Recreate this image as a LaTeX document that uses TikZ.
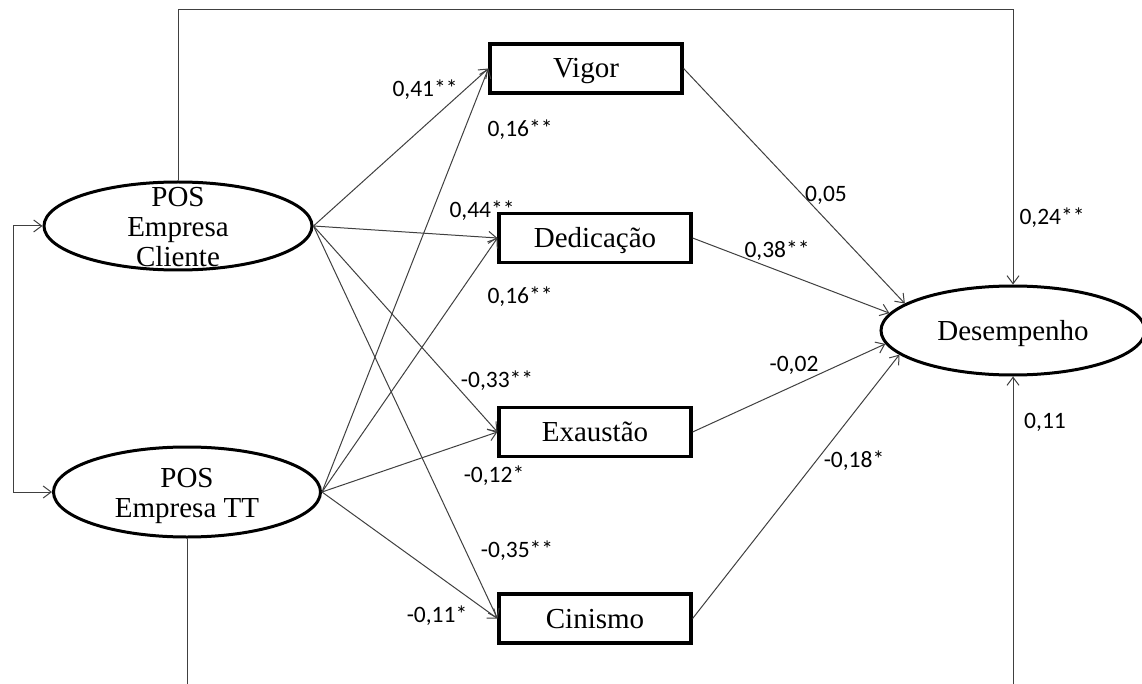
\documentclass[tikz,border=0pt]{standalone}
\usepackage{fontspec}
\setmainfont{Liberation Serif}
\newfontfamily\lblfont{Carlito}
\usetikzlibrary{shapes.geometric,arrows.meta}
\begin{document}
\begin{tikzpicture}[x=1pt,y=-1pt,
  conn/.style={draw=black!75, line width=1pt},
  tip/.tip={Straight Barb[length=8pt,width=12pt]},
  arr/.style={conn, -tip},
  latent/.style={ellipse, draw, line width=3pt, inner sep=0pt},
  bigfont/.style={font=\fontsize{29}{30}\selectfont},
  obsbox/.style={rectangle, draw, line width=3.2pt, minimum width=192pt, minimum height=49pt, inner sep=0pt, bigfont, text height=19pt, text depth=0pt},
  coef/.style={font=\lblfont\fontsize{23.5}{25}\selectfont, inner sep=0pt, text height=15pt, text depth=0pt},
  lattext/.style={bigfont, align=center, inner sep=0pt, anchor=north}
]
\useasboundingbox (0,0) rectangle (1142,684);
\fill[white] (0,0) rectangle (1142,684);

% latent variables
\node[latent, minimum width=268pt, minimum height=88pt] (cli) at (178,226) {};
\node[lattext] (clit) at (178,187) {POS\\Empresa\\Cliente};
\node[latent, minimum width=267pt, minimum height=90pt] (tt) at (187,492) {};
\node[lattext] (ttt) at (187,468) {POS\\Empresa TT};
\node[latent, minimum width=264pt, minimum height=89pt, bigfont, text height=19pt, text depth=0pt] (des) at (1013,330.5) {Desempenho};

% observed boxes
\node[obsbox] (vig) at (586,68.5) {Vigor};
\node[obsbox] (ded) at (595,238) {Dedicação};
\node[obsbox] (exa) at (595,432) {Exaustão};
\node[obsbox] (cin) at (595,618.5) {Cinismo};

% helper coordinates
\coordinate (lb) at (13,226);
\coordinate (topr) at (1013,10);
\coordinate (ttb) at (187,684);
\coordinate (desb) at (1013,684);

% correlation bracket
\draw[conn, tip-tip] (cli.west) -- (lb) |- (tt.west);

% direct effects to Desempenho
\draw[arr] (cli.north) |- (topr) -- (des.north);
\draw[conn] (tt.south) -- (ttb);
\draw[arr] (desb) -- (des.south);

% paths to boxes
\foreach \t in {vig,ded,exa,cin}{
  \draw[arr] (cli.east) -- (\t.west);
  \draw[arr] (tt.east) -- (\t.west);
}

% boxes to Desempenho
\draw[arr] (vig.east) -- (des.166);
\draw[arr] (ded.east) -- (des.172);
\draw[arr] (exa.east) -- (des.186);
\draw[arr] (cin.east) -- (des.192);

% coefficients
\node[coef] (l41) at (425,89) {0,41**};
\node[coef] (l16a) at (520,129) {0,16**};
\node[coef] (l44) at (482,210) {0,44**};
\node[coef] (l16b) at (520,296) {0,16**};
\node[coef] (l33) at (497,380) {-0,33**};
\node[coef] (l12) at (494,475) {-0,12*};
\node[coef] (l35) at (517,550) {-0,35**};
\node[coef] (l11) at (437,615) {-0,11*};
\node[coef] (l05) at (826,194) {0,05};
\node[coef] (l38) at (777,250) {0,38**};
\node[coef] (l24) at (1052,217) {0,24**};
\node[coef] (l02) at (794,364) {-0,02};
\node[coef] (l18) at (854,460) {-0,18*};
\node[coef] (l11b) at (1045,421) {0,11};
\end{tikzpicture}
\end{document}
